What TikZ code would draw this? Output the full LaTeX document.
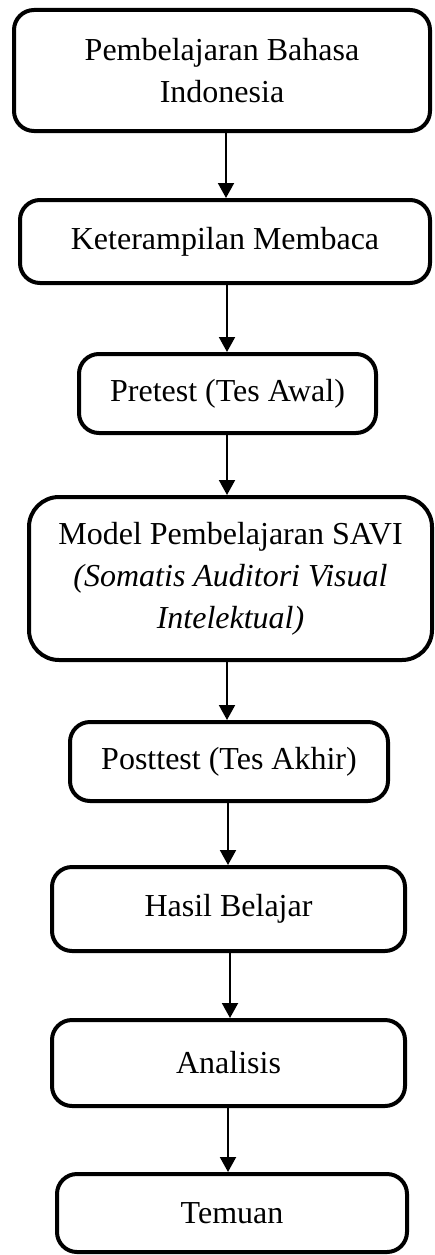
\documentclass[tikz,border=0pt]{standalone}
\usepackage{fontspec}
\setmainfont{Liberation Serif}
\usetikzlibrary{arrows.meta}
\begin{document}
\begin{tikzpicture}[x=1pt,y=-1pt,
  box/.style={draw=black, line width=4pt, rounded corners=20pt, align=center,
    inner sep=0pt, font=\fontsize{32}{42}\selectfont},
  arr/.style={line width=2pt, -{Triangle[width=16pt,length=15pt]}}]
\useasboundingbox (0,0) rectangle (435,1255);
\node[box, minimum width=416pt, minimum height=121pt] (b1) at (222,70.5)
  {Pembelajaran Bahasa\\Indonesia};
\node[box, minimum width=410pt, minimum height=83pt] (b2) at (225,241.5)
  {Keterampilan Membaca};
\node[box, minimum width=297pt, minimum height=79pt] (b3) at (227.5,393.5)
  {Pretest (Tes Awal)};
\node[box, rounded corners=30pt, minimum width=403pt, minimum height=163pt] (b4) at (230.5,578.5)
  {Model Pembelajaran SAVI\\\textit{(Somatis Auditori Visual}\\\textit{Intelektual)}};
\node[box, minimum width=318pt, minimum height=79pt] (b5) at (229,761.5)
  {Posttest (Tes Akhir)};
\node[box, minimum width=353pt, minimum height=84pt] (b6) at (228.5,909)
  {Hasil Belajar};
\node[box, minimum width=353pt, minimum height=86pt] (b7) at (228.5,1063)
  {Analisis};
\node[box, minimum width=350pt, minimum height=78pt] (b8) at (232,1213)
  {Temuan};
\draw[arr] (b1.south -| 226,0) -- (b2.north -| 226,0);
\draw[arr] (b2.south -| 227,0) -- (b3.north -| 227,0);
\draw[arr] (b3.south -| 227,0) -- (b4.north -| 227,0);
\draw[arr] (b4.south -| 227,0) -- (b5.north -| 227,0);
\draw[arr] (b5.south -| 228,0) -- (b6.north -| 228,0);
\draw[arr] (b6.south -| 230,0) -- (b7.north -| 230,0);
\draw[arr] (b7.south -| 228,0) -- (b8.north -| 228,0);
\end{tikzpicture}
\end{document}
